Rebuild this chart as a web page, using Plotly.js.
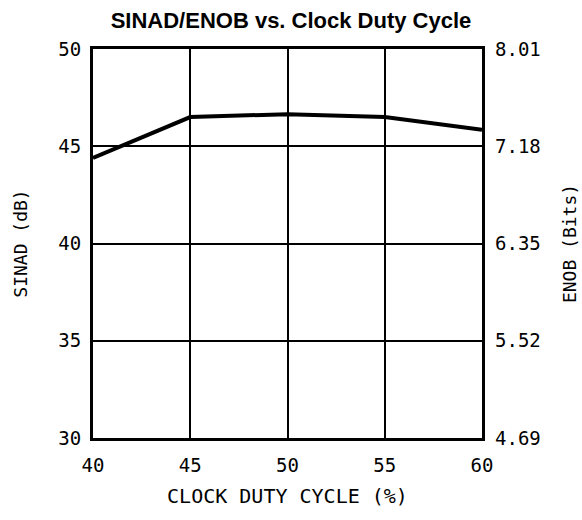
<!DOCTYPE html>
<html><head><meta charset="utf-8">
<script src="https://cdn.plot.ly/plotly-3.0.1.min.js"></script>
<style>body{margin:0;padding:0;background:#fff}#chart{width:582px;height:520px}</style>
</head><body><div id="chart"></div>
<script>
const dutyCycle = [40, 45, 50, 55, 60];
const sinad = [44.4, 46.5, 46.65, 46.5, 45.85];
const sinadTicks = [30, 35, 40, 45, 50];
const enobTickLabels = ['4.69', '5.52', '6.35', '7.18', '8.01'];
const xTicks = [40, 45, 50, 55, 60];

const tickFont = {family: 'DejaVu Sans Mono', size: 19, color: '#000'};
const traces = [
  {x: dutyCycle, y: sinad, mode: 'lines', line: {color: '#000', width: 4}, hoverinfo: 'skip', showlegend: false},
  {x: [], y: [], yaxis: 'y2', showlegend: false}
];
const layout = {
  width: 582, height: 520,
  margin: {l: 93, r: 100, t: 49, b: 82},
  paper_bgcolor: '#fff', plot_bgcolor: '#fff',
  title: {text: '<b>SINAD/ENOB vs. Clock Duty Cycle</b>', font: {family: 'Liberation Sans', size: 22, color: '#000'}, x: 0.5, xanchor: 'center', y: 0.961, yanchor: 'middle'},
  xaxis: {range: [40, 60], tickvals: xTicks, ticks: '', ticklabelstandoff: 8, showgrid: true, gridcolor: '#000', gridwidth: 2,
    showline: true, linecolor: '#000', linewidth: 3, mirror: true, zeroline: false, tickfont: tickFont,
    title: {text: 'CLOCK DUTY CYCLE (%)', font: {family: 'DejaVu Sans Mono', size: 20, color: '#000'}, standoff: 15}},
  yaxis: {range: [30, 50], tickvals: sinadTicks, ticks: '', ticklabelstandoff: 5, showgrid: true, gridcolor: '#000', gridwidth: 2,
    showline: true, linecolor: '#000', linewidth: 3, mirror: true, zeroline: false, tickfont: tickFont,
    title: {text: 'SINAD (dB)', font: {family: 'DejaVu Sans Mono', size: 18, color: '#000'}, standoff: 27}},
  yaxis2: {overlaying: 'y', side: 'right', range: [0, 4], tickvals: [0, 1, 2, 3, 4], ticktext: enobTickLabels,
    ticks: '', ticklabelstandoff: 12, showgrid: false, zeroline: false, showline: false, tickfont: tickFont,
    title: {text: 'ENOB (Bits)', font: {family: 'DejaVu Sans Mono', size: 18, color: '#000'}, standoff: 23}}
};
Plotly.newPlot('chart', traces, layout, {displayModeBar: false, staticPlot: true});
</script></body></html>
